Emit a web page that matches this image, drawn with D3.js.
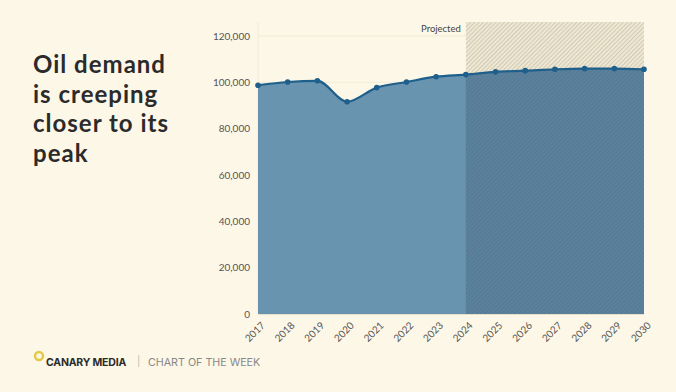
<!DOCTYPE html>
<html>
<head>
<meta charset="utf-8">
<script src="https://cdn.jsdelivr.net/npm/d3@7"></script>
<style>
  body { margin: 0; background: #fdf7e7; }
  svg { display: block; }
</style>
</head>
<body>
<svg id="chart" width="676" height="392"></svg>
<script>
// data (thousand barrels per day)
var years = [2017, 2018, 2019, 2020, 2021, 2022, 2023, 2024, 2025, 2026, 2027, 2028, 2029, 2030];
var demand = [98700, 100100, 100600, 91600, 97700, 100100, 102400, 103300, 104500, 105000, 105600, 105900, 105900, 105600];
var yTicks = [0, 20000, 40000, 60000, 80000, 100000, 120000];
var projectedFrom = 2024;
var titleLines = ["Oil demand", "is creeping", "closer to its", "peak"];

var svg = d3.select('#chart');
var margin = {left: 258, right: 32, top: 22, bottom: 78};
var width = 676 - margin.left - margin.right,
    height = 392 - margin.top - margin.bottom;

var x = d3.scaleLinear().domain([2017, 2030]).range([0, width]);
var y = d3.scaleLinear().domain([0, 126000]).range([height, 0]);

var rows = years.map(function(yr, i) { return {year: yr, value: demand[i]}; });

// hatch pattern for projected years
var defs = svg.append('defs');
var pat = defs.append('pattern')
    .attr('id', 'hatch')
    .attr('patternUnits', 'userSpaceOnUse')
    .attr('width', 3).attr('height', 3)
    .attr('patternTransform', 'rotate(45)');
pat.append('line')
    .attr('x1', 0).attr('y1', 0).attr('x2', 0).attr('y2', 3)
    .attr('stroke', 'rgba(90,80,60,0.38)')
    .attr('stroke-width', 1);

defs.append('clipPath').attr('id', 'projClip')
    .append('rect')
    .attr('x', x(projectedFrom)).attr('y', 0)
    .attr('width', x(2030) - x(projectedFrom)).attr('height', height);

var g = svg.append('g').attr('transform', 'translate(' + margin.left + ',' + margin.top + ')');

// grid
g.append('g').selectAll('line')
    .data(yTicks)
    .enter().append('line')
    .attr('x1', 0).attr('x2', width)
    .attr('y1', function(d) { return y(d); })
    .attr('y2', function(d) { return y(d); })
    .attr('stroke', '#f1ead6')
    .attr('stroke-width', 1);
g.append('line')
    .attr('x1', 0).attr('x2', 0).attr('y1', 0).attr('y2', height)
    .attr('stroke', '#f1ead6');

var curve = d3.curveMonotoneX;
var area = d3.area()
    .x(function(d) { return x(d.year); })
    .y0(height)
    .y1(function(d) { return y(d.value); })
    .curve(curve);
var line = d3.line()
    .x(function(d) { return x(d.year); })
    .y(function(d) { return y(d.value); })
    .curve(curve);

// projected background band
g.append('rect')
    .attr('x', x(projectedFrom)).attr('y', 0)
    .attr('width', x(2030) - x(projectedFrom)).attr('height', height)
    .attr('fill', '#eee7d2');

g.append('path')
    .datum(rows)
    .attr('d', area)
    .attr('fill', '#6894b0');

// darker fill under projected part
g.append('path')
    .datum(rows)
    .attr('d', area)
    .attr('clip-path', 'url(#projClip)')
    .attr('fill', '#5982a0');

// hatch overlay
g.append('rect')
    .attr('x', x(projectedFrom)).attr('y', 0)
    .attr('width', x(2030) - x(projectedFrom)).attr('height', height)
    .attr('fill', 'url(#hatch)');

g.append('path')
    .datum(rows)
    .attr('d', line)
    .attr('fill', 'none')
    .attr('stroke', '#1f5f8b')
    .attr('stroke-width', 2.2);

g.selectAll('circle.pt')
    .data(rows)
    .enter().append('circle')
    .attr('class', 'pt')
    .attr('cx', function(d) { return x(d.year); })
    .attr('cy', function(d) { return y(d.value); })
    .attr('r', 2.8)
    .attr('fill', '#1f5f8b');

g.append('text')
    .attr('x', x(projectedFrom) - 5)
    .attr('y', 10)
    .attr('text-anchor', 'end')
    .attr('font-family', 'Source Sans Pro, Lato, sans-serif')
    .attr('font-size', 9.5)
    .attr('fill', '#444')
    .text('Projected');

// axes
var yAxis = d3.axisLeft(y)
    .tickValues(yTicks)
    .tickSize(0)
    .tickPadding(8)
    .tickFormat(d3.format(','));
var yg = g.append('g').call(yAxis);
yg.select('.domain').remove();
yg.selectAll('text')
    .attr('font-family', 'Lato, sans-serif')
    .attr('font-size', 10)
    .attr('fill', '#555');

var xAxis = d3.axisBottom(x)
    .tickValues(years)
    .tickSize(0)
    .tickFormat(d3.format('d'));
var xg = g.append('g').attr('transform', 'translate(0,' + height + ')').call(xAxis);
xg.select('.domain').attr('stroke', '#e6dfca');
xg.selectAll('text')
    .attr('font-family', 'Lato, sans-serif')
    .attr('font-size', 10)
    .attr('fill', '#555')
    .attr('text-anchor', 'end')
    .attr('dy', 0)
    .attr('transform', 'translate(5,10) rotate(-45)');

// title, one text per line
svg.append('g').selectAll('text')
    .data(titleLines)
    .enter().append('text')
    .attr('x', 33)
    .attr('y', function(d, i) { return 73 + i * 29.5; })
    .attr('font-family', 'Lato, sans-serif')
    .attr('font-weight', 700)
    .attr('font-size', 24)
    .attr('letter-spacing', 1)
    .attr('fill', '#2b2b2b')
    .text(function(d) { return d; });

// footer
svg.append('circle')
    .attr('cx', 39).attr('cy', 356).attr('r', 4)
    .attr('fill', 'none').attr('stroke', '#e3c94a').attr('stroke-width', 2.5);
svg.append('text')
    .attr('x', 46).attr('y', 366)
    .attr('font-family', 'Inter, sans-serif')
    .attr('font-weight', 700)
    .attr('font-size', 10.5)
    .attr('letter-spacing', -0.2)
    .attr('fill', '#2a2a2a')
    .text('CANARY MEDIA');
svg.append('text')
    .attr('x', 137).attr('y', 365)
    .attr('font-family', 'Inter, sans-serif')
    .attr('font-size', 10)
    .attr('fill', '#bbb')
    .text('|');
svg.append('text')
    .attr('x', 148).attr('y', 366)
    .attr('font-family', 'Inter, sans-serif')
    .attr('font-size', 10.7)
    .attr('fill', '#888')
    .text('CHART OF THE WEEK');
</script>
</body>
</html>
